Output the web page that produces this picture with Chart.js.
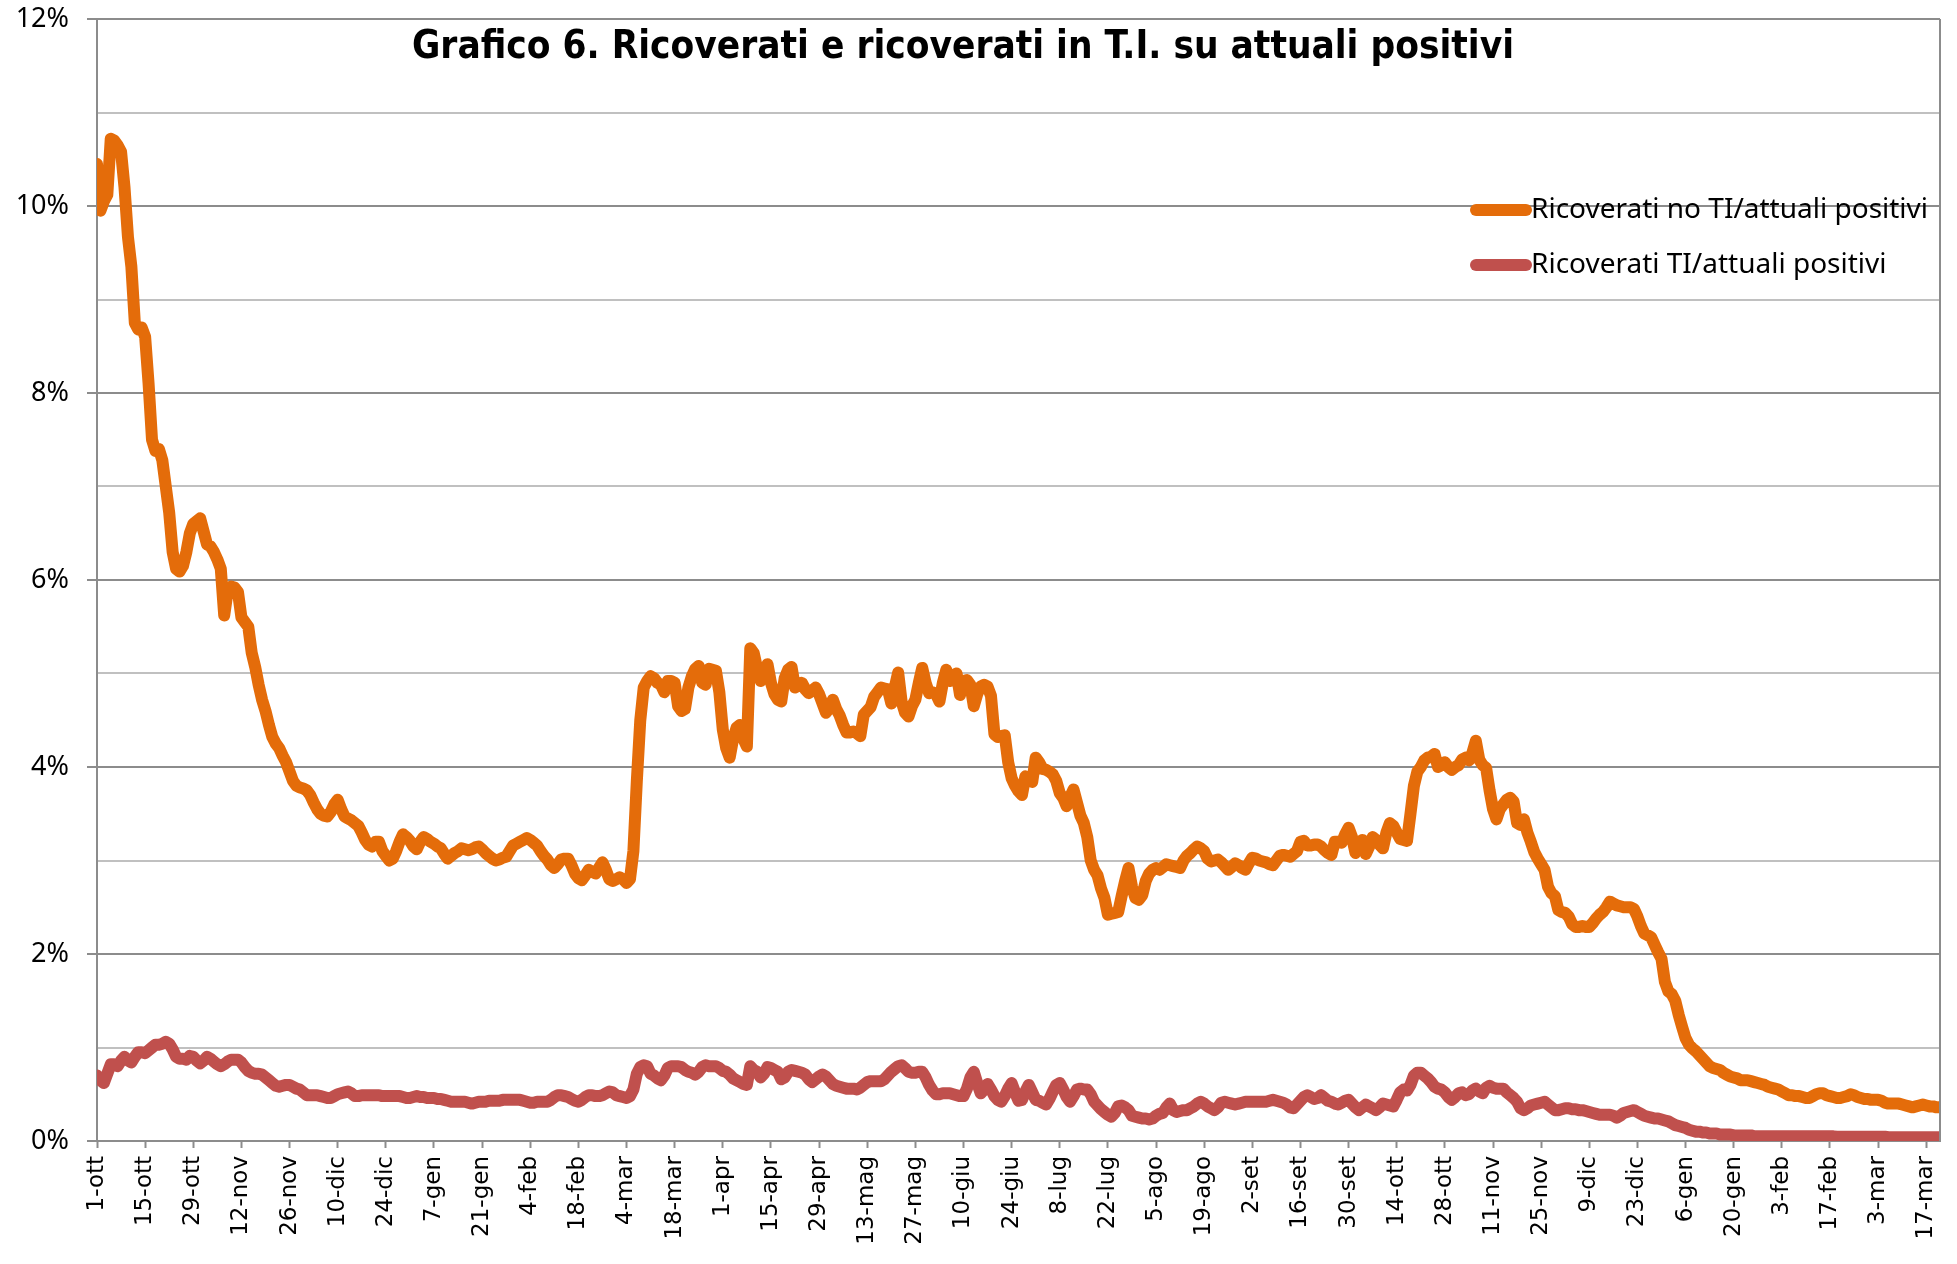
<!DOCTYPE html>
<html>
<head>
<meta charset="utf-8">
<script src="https://cdn.jsdelivr.net/npm/chart.js@4.4.1/dist/chart.umd.min.js"></script>
<style>
  html, body { margin: 0; padding: 0; background: #fff; }
  #wrap { width: 1957px; height: 1264px; position: relative; }
</style>
</head>
<body>
<div id="wrap"><canvas id="chartRicoveri"></canvas></div>
<script>
// giorni dal 1-ott-2020, valori in percentuale
var tickLabels = ['1-ott','15-ott','29-ott','12-nov','26-nov','10-dic','24-dic','7-gen','21-gen','4-feb',
    '18-feb','4-mar','18-mar','1-apr','15-apr','29-apr','13-mag','27-mag','10-giu','24-giu',
    '8-lug','22-lug','5-ago','19-ago','2-set','16-set','30-set','14-ott','28-ott','11-nov',
    '25-nov','9-dic','23-dic','6-gen','20-gen','3-feb','17-feb','3-mar','17-mar'];

var ricoveratiNoTI = [
    10.45, 9.95, 10.05, 10.12, 10.72, 10.7, 10.65, 10.58, 10.2, 9.67,
    9.35, 8.75, 8.68, 8.7, 8.6, 8.1, 7.5, 7.38, 7.4, 7.28,
    7.0, 6.72, 6.3, 6.12, 6.09, 6.15, 6.3, 6.5, 6.6, 6.63,
    6.66, 6.52, 6.38, 6.36, 6.3, 6.22, 6.12, 5.62, 5.88, 5.93,
    5.92, 5.87, 5.6, 5.55, 5.5, 5.22, 5.07, 4.88, 4.72, 4.6,
    4.45, 4.32, 4.25, 4.2, 4.12, 4.05, 3.95, 3.85, 3.8, 3.78,
    3.77, 3.75, 3.7, 3.62, 3.55, 3.5, 3.48, 3.47, 3.52, 3.6,
    3.65, 3.55, 3.47, 3.45, 3.43, 3.4, 3.37, 3.3, 3.22, 3.17,
    3.15, 3.2, 3.2, 3.1, 3.05, 3.0, 3.02, 3.1, 3.2, 3.28,
    3.25, 3.21, 3.15, 3.12, 3.2, 3.25, 3.23, 3.2, 3.18, 3.15,
    3.13, 3.07, 3.02, 3.05, 3.08, 3.1, 3.13, 3.12, 3.11, 3.12,
    3.14, 3.15, 3.12, 3.08, 3.05, 3.02, 3.0, 3.01, 3.03, 3.04,
    3.1, 3.16, 3.18, 3.2, 3.22, 3.24, 3.22, 3.19, 3.16, 3.1,
    3.05, 3.01, 2.95, 2.92, 2.96, 3.01, 3.02, 3.02, 2.95, 2.86,
    2.81, 2.79, 2.84, 2.9, 2.88, 2.86, 2.92, 2.98, 2.9, 2.8,
    2.78, 2.8, 2.82, 2.8, 2.76, 2.8, 3.1, 3.85, 4.5, 4.85,
    4.92, 4.97, 4.95, 4.9, 4.88, 4.8, 4.92, 4.92, 4.9, 4.65,
    4.6, 4.62, 4.85, 4.97, 5.05, 5.08, 4.9, 4.88, 5.05, 5.04,
    5.03, 4.8, 4.4, 4.2, 4.1, 4.3, 4.42, 4.45, 4.3, 4.22,
    5.27, 5.22, 5.05, 4.92, 5.0, 5.1, 4.9, 4.78, 4.72, 4.7,
    4.95, 5.04, 5.07, 4.85, 4.87, 4.9, 4.83, 4.79, 4.82, 4.85,
    4.78, 4.68, 4.58, 4.63, 4.72, 4.62, 4.55, 4.45, 4.37, 4.37,
    4.38, 4.36, 4.33, 4.56, 4.6, 4.64, 4.75, 4.8, 4.85, 4.84,
    4.83, 4.68, 4.85, 5.01, 4.7, 4.58, 4.54, 4.65, 4.72, 4.9,
    5.06, 4.9, 4.79, 4.8, 4.78, 4.7, 4.9, 5.04, 4.92, 4.95,
    5.0, 4.77, 4.92, 4.93, 4.88, 4.65, 4.78, 4.86, 4.88, 4.86,
    4.76, 4.35, 4.32, 4.33, 4.34, 4.05, 3.88, 3.8, 3.74, 3.7,
    3.9, 3.87, 3.84, 4.1, 4.05, 3.98, 3.97, 3.95, 3.92, 3.85,
    3.72, 3.67, 3.58, 3.68, 3.76, 3.62, 3.48, 3.4, 3.25, 3.0,
    2.9, 2.84, 2.7, 2.6, 2.42, 2.43, 2.44, 2.45, 2.62, 2.78,
    2.92, 2.72, 2.6, 2.58, 2.63, 2.78, 2.86, 2.9, 2.92, 2.9,
    2.93, 2.96, 2.95, 2.94, 2.93, 2.92, 3.0, 3.05, 3.08, 3.12,
    3.15, 3.13, 3.1, 3.02, 2.99, 3.0, 3.01, 2.98, 2.94, 2.9,
    2.93, 2.97, 2.95, 2.92, 2.9, 2.97, 3.03, 3.02, 3.0, 2.99,
    2.98, 2.96, 2.95, 3.0, 3.05, 3.06, 3.05, 3.04, 3.07, 3.1,
    3.2, 3.21, 3.16, 3.16, 3.17, 3.17, 3.15, 3.11, 3.08, 3.06,
    3.2, 3.2, 3.19, 3.28, 3.35, 3.25, 3.08, 3.15, 3.22, 3.07,
    3.15, 3.25, 3.22, 3.17, 3.13, 3.3, 3.4, 3.37, 3.3, 3.23,
    3.22, 3.21, 3.5, 3.8, 3.95, 4.0, 4.07, 4.1, 4.11, 4.14,
    4.0, 4.02, 4.05, 4.0, 3.97, 4.0, 4.02, 4.08, 4.1, 4.07,
    4.15, 4.28, 4.08, 4.02, 3.99, 3.75, 3.55, 3.44, 3.55, 3.6,
    3.65, 3.67, 3.63, 3.4, 3.38, 3.44, 3.3, 3.2, 3.09, 3.02,
    2.96, 2.9, 2.72, 2.65, 2.62, 2.47, 2.45, 2.44, 2.4, 2.32,
    2.29, 2.29, 2.3, 2.29, 2.29, 2.33, 2.38, 2.42, 2.45, 2.5,
    2.56, 2.54, 2.52, 2.51, 2.5, 2.5, 2.5, 2.48, 2.4, 2.3,
    2.22, 2.2, 2.18, 2.1, 2.02, 1.95, 1.7, 1.6, 1.57, 1.5,
    1.35, 1.22, 1.1, 1.03, 0.99, 0.96, 0.92, 0.88, 0.84, 0.8,
    0.78, 0.77, 0.76, 0.73, 0.71, 0.69, 0.68, 0.67, 0.65, 0.65,
    0.65, 0.64, 0.63, 0.62, 0.61, 0.6, 0.58, 0.57, 0.56, 0.55,
    0.53, 0.51, 0.49, 0.49, 0.48, 0.48, 0.47, 0.46, 0.46, 0.48,
    0.5, 0.51, 0.51, 0.49, 0.48, 0.47, 0.46, 0.46, 0.47, 0.48,
    0.5, 0.49, 0.47, 0.46, 0.45, 0.45, 0.44, 0.44, 0.44, 0.43,
    0.41, 0.4, 0.4, 0.4, 0.4, 0.39, 0.38, 0.37, 0.36, 0.37,
    0.38, 0.39, 0.38, 0.37, 0.37, 0.36, 0.36
];

var ricoveratiTI = [
    0.7, 0.65, 0.62, 0.72, 0.82, 0.82, 0.8, 0.86, 0.9, 0.86,
    0.84, 0.9, 0.95, 0.95, 0.94, 0.97, 1.0, 1.03, 1.03, 1.04,
    1.06, 1.04, 0.98, 0.9, 0.88, 0.88, 0.87, 0.91, 0.9, 0.86,
    0.83, 0.86, 0.9, 0.88, 0.85, 0.82, 0.8, 0.82, 0.85, 0.87,
    0.87, 0.87, 0.84, 0.79, 0.75, 0.73, 0.72, 0.72, 0.71, 0.68,
    0.65, 0.62, 0.59, 0.58, 0.59, 0.6, 0.6, 0.58, 0.56, 0.55,
    0.52, 0.49, 0.49, 0.49, 0.49, 0.48, 0.47, 0.46, 0.46, 0.48,
    0.5, 0.51, 0.52, 0.53, 0.51, 0.48, 0.48, 0.49, 0.49, 0.49,
    0.49, 0.49, 0.49, 0.48, 0.48, 0.48, 0.48, 0.48, 0.48, 0.47,
    0.46, 0.46, 0.47, 0.48, 0.47, 0.47, 0.46, 0.46, 0.46, 0.45,
    0.45, 0.44, 0.43, 0.42, 0.42, 0.42, 0.42, 0.42, 0.41, 0.4,
    0.41, 0.42, 0.42, 0.42, 0.43, 0.43, 0.43, 0.43, 0.44, 0.44,
    0.44, 0.44, 0.44, 0.44, 0.43, 0.42, 0.41, 0.41, 0.42, 0.42,
    0.42, 0.42, 0.44, 0.47, 0.49, 0.49, 0.48, 0.47, 0.45, 0.43,
    0.42, 0.44, 0.47, 0.49, 0.49, 0.48, 0.48, 0.49, 0.51, 0.53,
    0.52, 0.49, 0.48, 0.47, 0.46, 0.48, 0.55, 0.72, 0.79, 0.81,
    0.8, 0.72, 0.7, 0.67, 0.65, 0.7, 0.78, 0.8, 0.8, 0.8,
    0.79, 0.76, 0.74, 0.73, 0.71, 0.74, 0.79, 0.81, 0.8, 0.8,
    0.8, 0.78, 0.75, 0.74, 0.71, 0.67, 0.65, 0.63, 0.61, 0.6,
    0.8, 0.76, 0.74, 0.68, 0.72, 0.79, 0.78, 0.76, 0.74, 0.66,
    0.68, 0.74, 0.76, 0.75, 0.74, 0.73, 0.71, 0.66, 0.63, 0.66,
    0.69, 0.71, 0.69, 0.65, 0.61, 0.59, 0.58, 0.57, 0.56, 0.56,
    0.56, 0.55, 0.57, 0.6, 0.63, 0.64, 0.64, 0.64, 0.64, 0.66,
    0.7, 0.74, 0.77, 0.8, 0.81, 0.78, 0.74, 0.73, 0.73, 0.74,
    0.74, 0.68, 0.6, 0.54, 0.5, 0.5, 0.51, 0.51, 0.51, 0.5,
    0.49, 0.48, 0.48, 0.56, 0.68, 0.74, 0.62, 0.51, 0.55, 0.61,
    0.55, 0.48, 0.44, 0.42, 0.48, 0.56, 0.62, 0.52, 0.43, 0.44,
    0.53, 0.6, 0.52, 0.44, 0.43, 0.41, 0.39, 0.45, 0.53, 0.6,
    0.62, 0.55, 0.47, 0.42, 0.48, 0.55, 0.56, 0.55, 0.55, 0.5,
    0.42, 0.38, 0.34, 0.31, 0.28, 0.26, 0.3, 0.37, 0.38, 0.36,
    0.33, 0.27, 0.26, 0.25, 0.24, 0.24, 0.23, 0.24, 0.27, 0.29,
    0.3, 0.36, 0.4, 0.33, 0.31, 0.32, 0.33, 0.33, 0.35, 0.37,
    0.4, 0.42, 0.4, 0.37, 0.35, 0.33, 0.36, 0.41, 0.42, 0.41,
    0.4, 0.39, 0.4, 0.41, 0.42, 0.42, 0.42, 0.42, 0.42, 0.42,
    0.42, 0.43, 0.44, 0.43, 0.42, 0.41, 0.39, 0.36, 0.35, 0.39,
    0.43, 0.47, 0.49, 0.47, 0.45, 0.46, 0.49, 0.46, 0.43, 0.42,
    0.4, 0.39, 0.41, 0.43, 0.44, 0.4, 0.36, 0.33, 0.36, 0.39,
    0.37, 0.35, 0.33, 0.36, 0.4, 0.39, 0.38, 0.37, 0.44, 0.52,
    0.55, 0.54, 0.6, 0.7, 0.73, 0.73, 0.7, 0.67, 0.63, 0.58,
    0.56, 0.55, 0.52, 0.47, 0.44, 0.47, 0.51, 0.52, 0.49, 0.5,
    0.54, 0.56, 0.53, 0.51, 0.57, 0.59, 0.57, 0.56, 0.56, 0.56,
    0.52, 0.49, 0.46, 0.42, 0.35, 0.33, 0.35, 0.38, 0.39, 0.4,
    0.41, 0.42, 0.39, 0.36, 0.33, 0.33, 0.34, 0.35, 0.35, 0.34,
    0.34, 0.33, 0.33, 0.32, 0.31, 0.3, 0.29, 0.28, 0.28, 0.28,
    0.28, 0.27, 0.25, 0.27, 0.3, 0.31, 0.32, 0.33, 0.31, 0.29,
    0.27, 0.26, 0.25, 0.24, 0.24, 0.23, 0.22, 0.21, 0.19, 0.17,
    0.16, 0.15, 0.14, 0.12, 0.11, 0.1, 0.1, 0.09, 0.09, 0.08,
    0.08, 0.08, 0.07, 0.07, 0.07, 0.07, 0.06, 0.06, 0.06, 0.06,
    0.06, 0.06, 0.05, 0.05, 0.05, 0.05, 0.05, 0.05, 0.05, 0.05,
    0.05, 0.05, 0.05, 0.05, 0.05, 0.05, 0.05, 0.05, 0.05, 0.05,
    0.05, 0.05, 0.05, 0.05, 0.05, 0.05, 0.045, 0.045, 0.045, 0.045,
    0.045, 0.045, 0.045, 0.045, 0.045, 0.045, 0.045, 0.045, 0.045, 0.045,
    0.045, 0.04, 0.04, 0.04, 0.04, 0.04, 0.04, 0.04, 0.04, 0.04,
    0.04, 0.04, 0.04, 0.04, 0.04, 0.04, 0.04
];

var titolo = 'Grafico 6. Ricoverati e ricoverati in T.I. su attuali positivi';
var serieNomi = ['Ricoverati no TI/attuali positivi', 'Ricoverati TI/attuali positivi'];
var serieColori = ['#E46C0A', '#C0504D'];

function toPoints(arr) {
    return arr.map(function (v, i) { return { x: i, y: v }; });
}

// titolo, legenda e bordo destro disegnati sopra l'area del grafico
var overlay = {
    id: 'overlay',
    afterDraw: function (chart) {
        var ctx = chart.ctx, area = chart.chartArea;
        ctx.save();
        ctx.strokeStyle = '#8c8c8c';
        ctx.lineWidth = 2;
        ctx.beginPath();
        ctx.moveTo(area.right, area.top);
        ctx.lineTo(area.right, area.bottom);
        ctx.stroke();

        ctx.fillStyle = '#000';
        ctx.textBaseline = 'middle';
        ctx.textAlign = 'center';
        var fam = '"Liberation Sans Narrow", "DejaVu Sans Condensed", "Noto Sans", sans-serif';
        ctx.font = 'bold 40px ' + fam;
        var w = ctx.measureText(titolo).width;
        var size = Math.min(44, 40 * 1102 / w);
        ctx.font = 'bold ' + size.toFixed(1) + 'px ' + fam;
        ctx.fillText(titolo, 963, 48);

        ctx.textAlign = 'left';
        ctx.font = '28px "Noto Sans", sans-serif';
        ctx.lineCap = 'round';
        ctx.lineWidth = 12;
        for (var i = 0; i < serieNomi.length; i++) {
            var y = 210 + i * 55;
            ctx.strokeStyle = serieColori[i];
            ctx.beginPath();
            ctx.moveTo(1476, y);
            ctx.lineTo(1526, y);
            ctx.stroke();
            ctx.fillText(serieNomi[i], 1531, y);
        }
        ctx.restore();
    }
};

new Chart(document.getElementById('chartRicoveri').getContext('2d'), {
    type: 'line',
    data: {
        datasets: [{
            label: serieNomi[0],
            data: toPoints(ricoveratiNoTI),
            borderColor: serieColori[0],
            borderWidth: 12,
            pointRadius: 0,
            borderJoinStyle: 'round',
            borderCapStyle: 'round',
            tension: 0,
            order: 2
        }, {
            label: serieNomi[1],
            data: toPoints(ricoveratiTI),
            borderColor: serieColori[1],
            borderWidth: 12,
            pointRadius: 0,
            borderJoinStyle: 'round',
            borderCapStyle: 'round',
            tension: 0,
            order: 1
        }]
    },
    options: {
        responsive: true,
        maintainAspectRatio: false,
        animation: false,
        layout: { padding: { top: 0, right: 17, left: 0, bottom: 0 } },
        plugins: {
            legend: { display: false },
            title: { display: false },
            tooltip: { enabled: false }
        },
        scales: {
            x: {
                type: 'linear',
                min: 0,
                max: 536,
                afterBuildTicks: function (scale) {
                    scale.ticks = tickLabels.map(function (l, i) { return { value: i * 14 }; });
                },
                afterFit: function (scale) {
                    scale.height = 123;
                    scale.paddingLeft = 0;
                    scale.paddingRight = 0;
                },
                ticks: {
                    autoSkip: false,
                    maxRotation: 90,
                    minRotation: 90,
                    padding: 8,
                    color: '#000',
                    font: { family: '"DejaVu Sans"', size: 23 },
                    callback: function (v) { return tickLabels[v / 14]; }
                },
                grid: {
                    drawOnChartArea: false,
                    tickLength: 7,
                    tickColor: '#8c8c8c',
                    tickWidth: 2
                },
                border: { color: '#8c8c8c', width: 2 }
            },
            y: {
                min: 0,
                max: 12,
                afterFit: function (scale) {
                    scale.width = 97;
                    scale.paddingTop = 19;
                    scale.paddingBottom = 0;
                },
                ticks: {
                    stepSize: 1,
                    autoSkip: false,
                    padding: 18,
                    color: '#000',
                    font: { family: '"Noto Sans"', size: 27 },
                    callback: function (v) { return v % 2 === 0 ? v + '%' : ''; }
                },
                grid: {
                    color: function (c) { return c.tick.value % 2 === 0 ? '#8c8c8c' : '#c0c0c0'; },
                    lineWidth: 2,
                    tickLength: 10,
                    tickColor: function (c) { return c.tick.value % 2 === 0 ? '#8c8c8c' : 'rgba(0,0,0,0)'; }
                },
                border: { color: '#8c8c8c', width: 2 }
            }
        }
    },
    plugins: [overlay]
});
</script>
</body>
</html>
